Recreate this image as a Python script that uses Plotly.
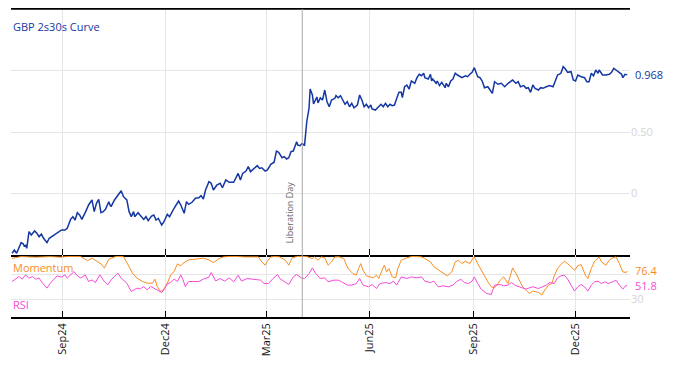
import plotly.graph_objects as go

# ---------------- data ----------------
curve_dates = [
    "2024-07-18","2024-07-20","2024-07-22","2024-07-26","2024-07-28","2024-07-29","2024-07-30","2024-07-31",
    "2024-08-02","2024-08-04","2024-08-07","2024-08-09","2024-08-11","2024-08-13","2024-08-15","2024-08-18",
    "2024-08-20","2024-08-24","2024-08-28","2024-08-31","2024-09-03","2024-09-05","2024-09-08","2024-09-10",
    "2024-09-12","2024-09-14","2024-09-16","2024-09-18","2024-09-21","2024-09-24","2024-09-27","2024-09-29",
    "2024-10-01","2024-10-03","2024-10-05","2024-10-07","2024-10-09","2024-10-12","2024-10-13","2024-10-14",
    "2024-10-17","2024-10-21","2024-10-23","2024-10-25","2024-10-28","2024-10-30","2024-11-01","2024-11-03",
    "2024-11-04","2024-11-07","2024-11-10","2024-11-12","2024-11-14","2024-11-16","2024-11-19","2024-11-21",
    "2024-11-23","2024-11-25","2024-11-28","2024-11-30","2024-12-03","2024-12-05","2024-12-09","2024-12-13",
    "2024-12-15","2024-12-18","2024-12-20","2024-12-22","2024-12-25","2024-12-28","2024-12-31","2025-01-02",
    "2025-01-04","2025-01-06","2025-01-09","2025-01-11","2025-01-13","2025-01-16","2025-01-19","2025-01-21",
    "2025-01-24","2025-01-27","2025-01-31","2025-02-02","2025-02-04","2025-02-06","2025-02-08","2025-02-11",
    "2025-02-13","2025-02-15","2025-02-18","2025-02-21","2025-02-23","2025-02-25","2025-02-28","2025-03-02",
    "2025-03-05","2025-03-08","2025-03-10","2025-03-12","2025-03-15","2025-03-17","2025-03-19","2025-03-21",
    "2025-03-23","2025-03-25","2025-03-28","2025-03-29","2025-03-31","2025-04-02","2025-04-04","2025-04-06",
    "2025-04-08","2025-04-09","2025-04-11","2025-04-12","2025-04-15","2025-04-16","2025-04-18","2025-04-20",
    "2025-04-22","2025-04-24","2025-04-26","2025-04-28","2025-05-01","2025-05-02","2025-05-04","2025-05-06",
    "2025-05-08","2025-05-10","2025-05-12","2025-05-14","2025-05-16","2025-05-18","2025-05-21","2025-05-23",
    "2025-05-25","2025-05-27","2025-05-29","2025-05-31","2025-06-02","2025-06-03","2025-06-06","2025-06-09",
    "2025-06-11","2025-06-13","2025-06-15","2025-06-17","2025-06-19","2025-06-21","2025-06-23","2025-06-25",
    "2025-06-27","2025-06-29","2025-06-30","2025-07-02","2025-07-04","2025-07-06","2025-07-08","2025-07-11",
    "2025-07-13","2025-07-15","2025-07-17","2025-07-19","2025-07-20","2025-07-23","2025-07-25","2025-07-26",
    "2025-07-27","2025-07-30","2025-07-31","2025-08-02","2025-08-04","2025-08-07","2025-08-08","2025-08-10",
    "2025-08-12","2025-08-14","2025-08-16","2025-08-18","2025-08-20","2025-08-22","2025-08-25","2025-08-27",
    "2025-08-29","2025-08-31","2025-09-02","2025-09-04","2025-09-05","2025-09-07","2025-09-09","2025-09-11",
    "2025-09-14","2025-09-16","2025-09-18","2025-09-20","2025-09-23","2025-09-26","2025-09-29","2025-10-02",
    "2025-10-04","2025-10-06","2025-10-09","2025-10-11","2025-10-13","2025-10-16","2025-10-18","2025-10-20",
    "2025-10-22","2025-10-24","2025-10-26","2025-10-29","2025-10-31","2025-11-02","2025-11-05","2025-11-08",
    "2025-11-11","2025-11-13","2025-11-15","2025-11-18","2025-11-20","2025-11-22","2025-11-24","2025-11-27",
    "2025-11-29","2025-12-01","2025-12-03","2025-12-06","2025-12-09","2025-12-11","2025-12-13","2025-12-15",
    "2025-12-17","2025-12-19","2025-12-21","2025-12-22","2025-12-25","2025-12-28","2025-12-31","2026-01-02",
    "2026-01-04","2026-01-06","2026-01-08","2026-01-11","2026-01-12","2026-01-14","2026-01-16",
]
curve_values = [
    -0.494,-0.467,-0.494,-0.407,-0.418,-0.440,-0.426,-0.453,
    -0.317,-0.344,-0.311,-0.330,-0.358,-0.336,-0.371,-0.407,
    -0.371,-0.344,-0.317,-0.303,-0.303,-0.289,-0.216,-0.194,
    -0.221,-0.161,-0.180,-0.216,-0.161,-0.098,-0.057,-0.153,
    -0.084,-0.052,-0.161,-0.153,-0.134,-0.071,-0.098,-0.112,
    -0.057,-0.002,0.019,-0.030,-0.057,-0.153,-0.194,-0.153,
    -0.194,-0.161,-0.189,-0.216,-0.194,-0.227,-0.189,-0.180,
    -0.221,-0.207,-0.262,-0.235,-0.175,-0.194,-0.125,-0.066,
    -0.098,-0.166,-0.071,-0.093,-0.076,-0.043,-0.039,-0.022,
    -0.049,0.025,0.093,0.080,0.025,0.066,0.080,0.043,
    0.107,0.088,0.088,0.120,0.161,0.107,0.161,0.180,
    0.216,0.175,0.202,0.224,0.202,0.207,0.180,0.189,
    0.235,0.252,0.344,0.334,0.289,0.298,0.279,0.289,
    0.339,0.344,0.420,0.393,0.388,0.407,0.388,0.584,
    0.694,0.852,0.803,0.730,0.787,0.738,0.781,0.762,
    0.844,0.748,0.707,0.762,0.776,0.798,0.781,0.798,
    0.762,0.727,0.748,0.707,0.735,0.699,0.721,0.803,
    0.762,0.707,0.727,0.699,0.721,0.689,0.680,0.707,
    0.727,0.707,0.735,0.707,0.727,0.716,0.721,0.776,
    0.825,0.825,0.781,0.871,0.885,0.852,0.918,0.899,
    0.945,0.973,0.961,0.981,0.945,0.934,0.973,0.918,
    0.934,0.899,0.918,0.880,0.907,0.863,0.899,0.871,
    0.918,0.934,0.981,0.967,0.953,0.945,0.961,0.953,
    0.973,0.989,1.027,0.967,0.953,0.945,0.918,0.863,
    0.871,0.844,0.817,0.912,0.891,0.899,0.871,0.899,
    0.912,0.926,0.899,0.912,0.871,0.880,0.858,0.863,
    0.825,0.885,0.858,0.844,0.863,0.858,0.871,0.880,
    0.871,0.912,0.967,0.981,1.035,1.016,0.989,0.994,
    0.926,0.918,0.967,0.953,0.945,0.912,0.912,0.981,
    0.961,1.008,0.981,1.008,0.967,0.967,0.973,0.989,
    1.022,1.008,0.994,0.973,0.945,0.973,0.968,
]

momentum_dates = [
    "2024-07-18","2024-07-26","2024-08-08","2024-08-21","2024-08-30","2024-09-05","2024-09-17","2024-09-23",
    "2024-09-27","2024-10-02","2024-10-05","2024-10-08","2024-10-10","2024-10-12","2024-10-18","2024-10-25",
    "2024-10-30","2024-11-02","2024-11-06","2024-11-11","2024-11-15","2024-11-20","2024-11-22","2024-11-24",
    "2024-11-27","2024-11-30","2024-12-03","2024-12-06","2024-12-09","2024-12-12","2024-12-15","2024-12-17",
    "2024-12-22","2024-12-27","2024-12-31","2025-01-04","2025-01-09","2025-01-13","2025-01-18","2025-01-22",
    "2025-01-27","2025-01-31","2025-02-04","2025-02-10","2025-02-16","2025-02-22","2025-02-25","2025-02-28",
    "2025-03-02","2025-03-05","2025-03-09","2025-03-13","2025-03-18","2025-03-21","2025-03-24","2025-03-28",
    "2025-04-02","2025-04-06","2025-04-11","2025-04-13","2025-04-16","2025-04-19","2025-04-22","2025-04-25",
    "2025-04-28","2025-05-01","2025-05-05","2025-05-09","2025-05-12","2025-05-14","2025-05-17","2025-05-20",
    "2025-05-22","2025-05-24","2025-05-26","2025-05-29","2025-06-01","2025-06-04","2025-06-07","2025-06-09",
    "2025-06-12","2025-06-14","2025-06-16","2025-06-18","2025-06-21","2025-06-24","2025-06-26","2025-06-29",
    "2025-07-04","2025-07-08","2025-07-13","2025-07-17","2025-07-20","2025-07-25","2025-07-28","2025-08-01",
    "2025-08-05","2025-08-09","2025-08-13","2025-08-16","2025-08-19","2025-08-22","2025-08-25","2025-08-29",
    "2025-09-01","2025-09-02","2025-09-05","2025-09-08","2025-09-11","2025-09-14","2025-09-17","2025-09-20",
    "2025-09-23","2025-09-25","2025-09-28","2025-09-30","2025-10-02","2025-10-04","2025-10-06","2025-10-09",
    "2025-10-12","2025-10-15","2025-10-18","2025-10-21","2025-10-24","2025-10-29","2025-11-01","2025-11-03",
    "2025-11-07","2025-11-10","2025-11-12","2025-11-15","2025-11-18","2025-11-21","2025-11-24","2025-11-27",
    "2025-11-30","2025-12-03","2025-12-06","2025-12-10","2025-12-12","2025-12-15","2025-12-18","2025-12-22",
    "2025-12-24","2025-12-28","2025-12-31","2026-01-03","2026-01-06","2026-01-09","2026-01-12","2026-01-15",
    "2026-01-16",
]
momentum_values = [
    97,100,99,100,99,100,99.9,93.3,
    97.3,91.7,88,80.9,89,95.6,100,99.9,
    83.6,72.8,64.6,59.1,56.4,56.4,63,50.9,
    42.7,46.7,56.4,70,75.4,88,84.7,89,
    94.5,95.6,97.3,97.3,94.5,90.1,96.6,99.4,
    100,99.4,100,99.4,100,99.4,91.2,85.8,
    92.4,99.4,100,99.4,94,85.8,97.8,100,
    100,100,96.6,99.4,94,99.4,97.8,85.8,
    91.2,99.4,99.4,96.6,83.1,77.7,72.1,69.5,
    80.3,88.4,77.7,68.4,66.7,65.1,69.5,64,
    77.7,85.8,74.9,80.3,66.7,65.1,80.3,94,
    97.8,100,100,99.4,96.6,91.2,83.1,77.7,
    73.8,68.4,74.9,91.2,94,88.4,92.4,88.4,
    97.8,99.4,88.4,77.7,66.7,58.6,50.4,48.8,
    55.8,61.3,66.7,61.3,55.8,68.4,81.4,72.1,
    61.3,50.4,45,39.5,43.4,41.1,36.9,43.4,
    53.2,55.8,68.4,80.3,86.8,92.4,88.4,83.1,
    77.7,84.7,86.8,68.4,64,80.3,92.4,99.4,
    91.2,85.8,94,97.8,99.4,88.4,74.9,73.8,
    76.4,
]

rsi_dates = [
    "2024-07-18","2024-07-21","2024-07-24","2024-07-27","2024-07-30","2024-08-02","2024-08-05","2024-08-08",
    "2024-08-11","2024-08-14","2024-08-18","2024-08-21","2024-08-24","2024-08-27","2024-08-31","2024-09-03",
    "2024-09-05","2024-09-08","2024-09-11","2024-09-14","2024-09-17","2024-09-21","2024-09-24","2024-09-27",
    "2024-09-30","2024-10-04","2024-10-08","2024-10-11","2024-10-14","2024-10-17","2024-10-20","2024-10-23",
    "2024-10-25","2024-10-28","2024-11-01","2024-11-03","2024-11-06","2024-11-09","2024-11-12","2024-11-15",
    "2024-11-18","2024-11-21","2024-11-24","2024-11-28","2024-11-30","2024-12-03","2024-12-06","2024-12-09",
    "2024-12-12","2024-12-15","2024-12-17","2024-12-19","2024-12-22","2024-12-27","2024-12-31","2025-01-04",
    "2025-01-09","2025-01-11","2025-01-15","2025-01-19","2025-01-23","2025-01-27","2025-01-31","2025-02-04",
    "2025-02-07","2025-02-12","2025-02-19","2025-02-24","2025-02-27","2025-03-03","2025-03-07","2025-03-11",
    "2025-03-13","2025-03-18","2025-03-21","2025-03-25","2025-03-28","2025-04-01","2025-04-04","2025-04-08",
    "2025-04-11","2025-04-14","2025-04-18","2025-04-22","2025-04-25","2025-04-30","2025-05-04","2025-05-07",
    "2025-05-12","2025-05-16","2025-05-20","2025-05-23","2025-05-26","2025-05-31","2025-06-03","2025-06-07",
    "2025-06-10","2025-06-15","2025-06-19","2025-06-22","2025-06-25","2025-06-29","2025-07-04","2025-07-08",
    "2025-07-13","2025-07-17","2025-07-20","2025-07-25","2025-07-28","2025-08-01","2025-08-05","2025-08-10",
    "2025-08-14","2025-08-17","2025-08-21","2025-08-24","2025-08-28","2025-08-31","2025-09-02","2025-09-05",
    "2025-09-08","2025-09-13","2025-09-17","2025-09-20","2025-09-25","2025-09-28","2025-10-02","2025-10-05",
    "2025-10-08","2025-10-12","2025-10-15","2025-10-18","2025-10-21","2025-10-24","2025-10-29","2025-11-02",
    "2025-11-05","2025-11-08","2025-11-12","2025-11-15","2025-11-18","2025-11-21","2025-11-24","2025-11-27",
    "2025-11-30","2025-12-03","2025-12-06","2025-12-09","2025-12-12","2025-12-15","2025-12-18","2025-12-21",
    "2025-12-24","2025-12-27","2025-12-30","2026-01-03","2026-01-06","2026-01-09","2026-01-12","2026-01-15",
    "2026-01-16",
]
rsi_values = [
    59.1,63,67.2,63,70,64.6,67.2,63,
    64.6,56.4,48.3,56.4,63,68.4,66.2,70,
    64.6,70,75.4,68.4,64.6,70,59.1,61.8,
    57.4,70,59.1,53.7,61.8,67.2,72.8,64.6,
    61.8,56.4,42.7,44.4,48.3,46.7,50.9,45.5,
    50.9,48.3,45.5,41.1,45.5,55.3,57.4,63,
    59.1,70,61.8,50.9,59.1,59.1,59.1,63,
    66.2,73.8,60,64,59.7,65.1,58.6,69.5,
    59.7,64,63,61.3,55.8,55.8,64,70.5,
    64,58.6,54.2,66.7,70.5,65.1,64,72.1,
    81.4,72.1,64,65.1,58.6,61.3,61.3,58.6,
    53.2,53.2,55.8,64,53.2,50.4,54.2,47.6,
    55.8,57.4,55.8,59.7,53.2,66.7,64,66.7,
    65.1,66.7,59.7,57.4,59.7,50.4,52,50.4,
    53.2,58.6,63,57.4,55.8,59.7,66.7,55.8,
    46.7,39.5,37.8,53.2,54.2,52,53.2,57.4,
    53.2,50.4,48.8,46.7,48.8,50.4,47.6,50.4,
    53.2,57.4,55.8,65.1,68.4,69.5,63,53.2,
    43.4,50.4,54.2,50.4,43.4,53.2,58.6,59.7,
    55.8,58.6,55.8,58.6,61.3,53.2,46.7,53.2,
    51.8,
]

event_date = "2025-04-02"
event_label = "Liberation Day"
curve_name = "GBP 2s30s Curve"
x_range = ["2024-07-17", "2026-01-18 10:00"]
curve_ticks = [0, 0.5, 1]
curve_ticktext = ["0", "0.50", ""]      # "1" sits hidden behind the last-value label
osc_ticks = [30, 70]
osc_ticktext = ["30", ""]               # "70" sits hidden behind the last-value label

# ---------------- styling ----------------
BLUE = "#1437a3"
ORANGE = "#fa8c1e"
MAGENTA = "#f54bd8"
GRID = "#e6e6e6"
TICKGREY = "#d4d4d4"
FONT = "Open Sans, Noto Sans, sans-serif"
split = 62 / 308

fig = go.Figure()
fig.add_trace(go.Scatter(x=curve_dates, y=curve_values, mode="lines",
                         line=dict(color=BLUE, width=1.5), xaxis="x", yaxis="y",
                         name=curve_name))
fig.add_trace(go.Scatter(x=momentum_dates, y=momentum_values, mode="lines",
                         line=dict(color=ORANGE, width=1), xaxis="x2", yaxis="y2",
                         name="Momentum"))
fig.add_trace(go.Scatter(x=rsi_dates, y=rsi_values, mode="lines",
                         line=dict(color=MAGENTA, width=1), xaxis="x2", yaxis="y2",
                         name="RSI"))

common_x = dict(type="date", range=x_range, tick0="2024-09-01", dtick="M3",
                showgrid=True, gridcolor=GRID, gridwidth=1,
                ticks="inside", ticklen=6, tickcolor="black", tickwidth=1,
                showline=True, linecolor="black", linewidth=1.5, zeroline=False,
                automargin=False)

# page body keeps its default 8px margin, so the figure is sized to fit inside it
fig.update_layout(
    width=658, height=350,
    margin=dict(l=3, r=36, t=1, b=41),
    paper_bgcolor="white", plot_bgcolor="white",
    showlegend=False,
    font=dict(family=FONT, size=11, color="#222"),
    xaxis=dict(**common_x, anchor="y", domain=[0, 1], mirror=True, showticklabels=False),
    xaxis2=dict(**common_x, anchor="y2", domain=[0, 1], matches="x",
                tickformat="%b%y", tickangle=-90, tickfont=dict(size=11, color="#111")),
    yaxis=dict(domain=[split, 1], range=[-0.508, 1.508], side="right", automargin=False,
               tickvals=curve_ticks, ticktext=curve_ticktext,
               showgrid=True, gridcolor=GRID, zeroline=False, showline=False,
               ticks="", tickfont=dict(size=11, color=TICKGREY)),
    yaxis2=dict(domain=[0, split], range=[1, 102.5], side="right", anchor="x2", automargin=False,
                tickvals=osc_ticks, ticktext=osc_ticktext,
                showgrid=True, gridcolor=GRID, zeroline=False, showline=False,
                ticks="", tickfont=dict(size=11, color=TICKGREY)),
)

# top border of the price panel
fig.add_shape(type="line", xref="paper", yref="paper", x0=0, x1=1, y0=1, y1=1,
              line=dict(color="black", width=1.5))

# event line across both panels
fig.add_shape(type="line", xref="x", yref="paper", x0=event_date, x1=event_date,
              y0=0, y1=1, line=dict(color="#aaaaaa", width=1))
fig.add_annotation(x=event_date, xref="x", y=split, yref="paper", text=event_label,
                   textangle=-90, showarrow=False, xanchor="right", yanchor="bottom",
                   xshift=-4, yshift=10, font=dict(size=9, color="#666666"))

# panel titles
fig.add_annotation(x=0, xref="paper", y=1, yref="paper", text=curve_name, showarrow=False,
                   xanchor="left", yanchor="top", xshift=0, yshift=-8,
                   font=dict(size=11, color=BLUE))
fig.add_annotation(x=0, xref="paper", y=split, yref="paper", text="Momentum", showarrow=False,
                   xanchor="left", yanchor="top", xshift=0, yshift=-3,
                   font=dict(size=11, color=ORANGE))
fig.add_annotation(x=0, xref="paper", y=0, yref="paper", text="RSI", showarrow=False,
                   xanchor="left", yanchor="bottom", xshift=0, yshift=3,
                   font=dict(size=11, color=MAGENTA))

# last-value labels
for yv, yr, col in [(curve_values[-1], "y", BLUE),
                    (momentum_values[-1], "y2", ORANGE),
                    (rsi_values[-1], "y2", MAGENTA)]:
    fig.add_annotation(x=1, xref="paper", y=yv, yref=yr,
                       text=f"{yv:.3f}" if yr == "y" else f"{yv:.1f}",
                       showarrow=False, xanchor="left", yanchor="middle", xshift=4,
                       bgcolor="white", borderpad=0, font=dict(size=11, color=col))

fig.write_html("out.html")
